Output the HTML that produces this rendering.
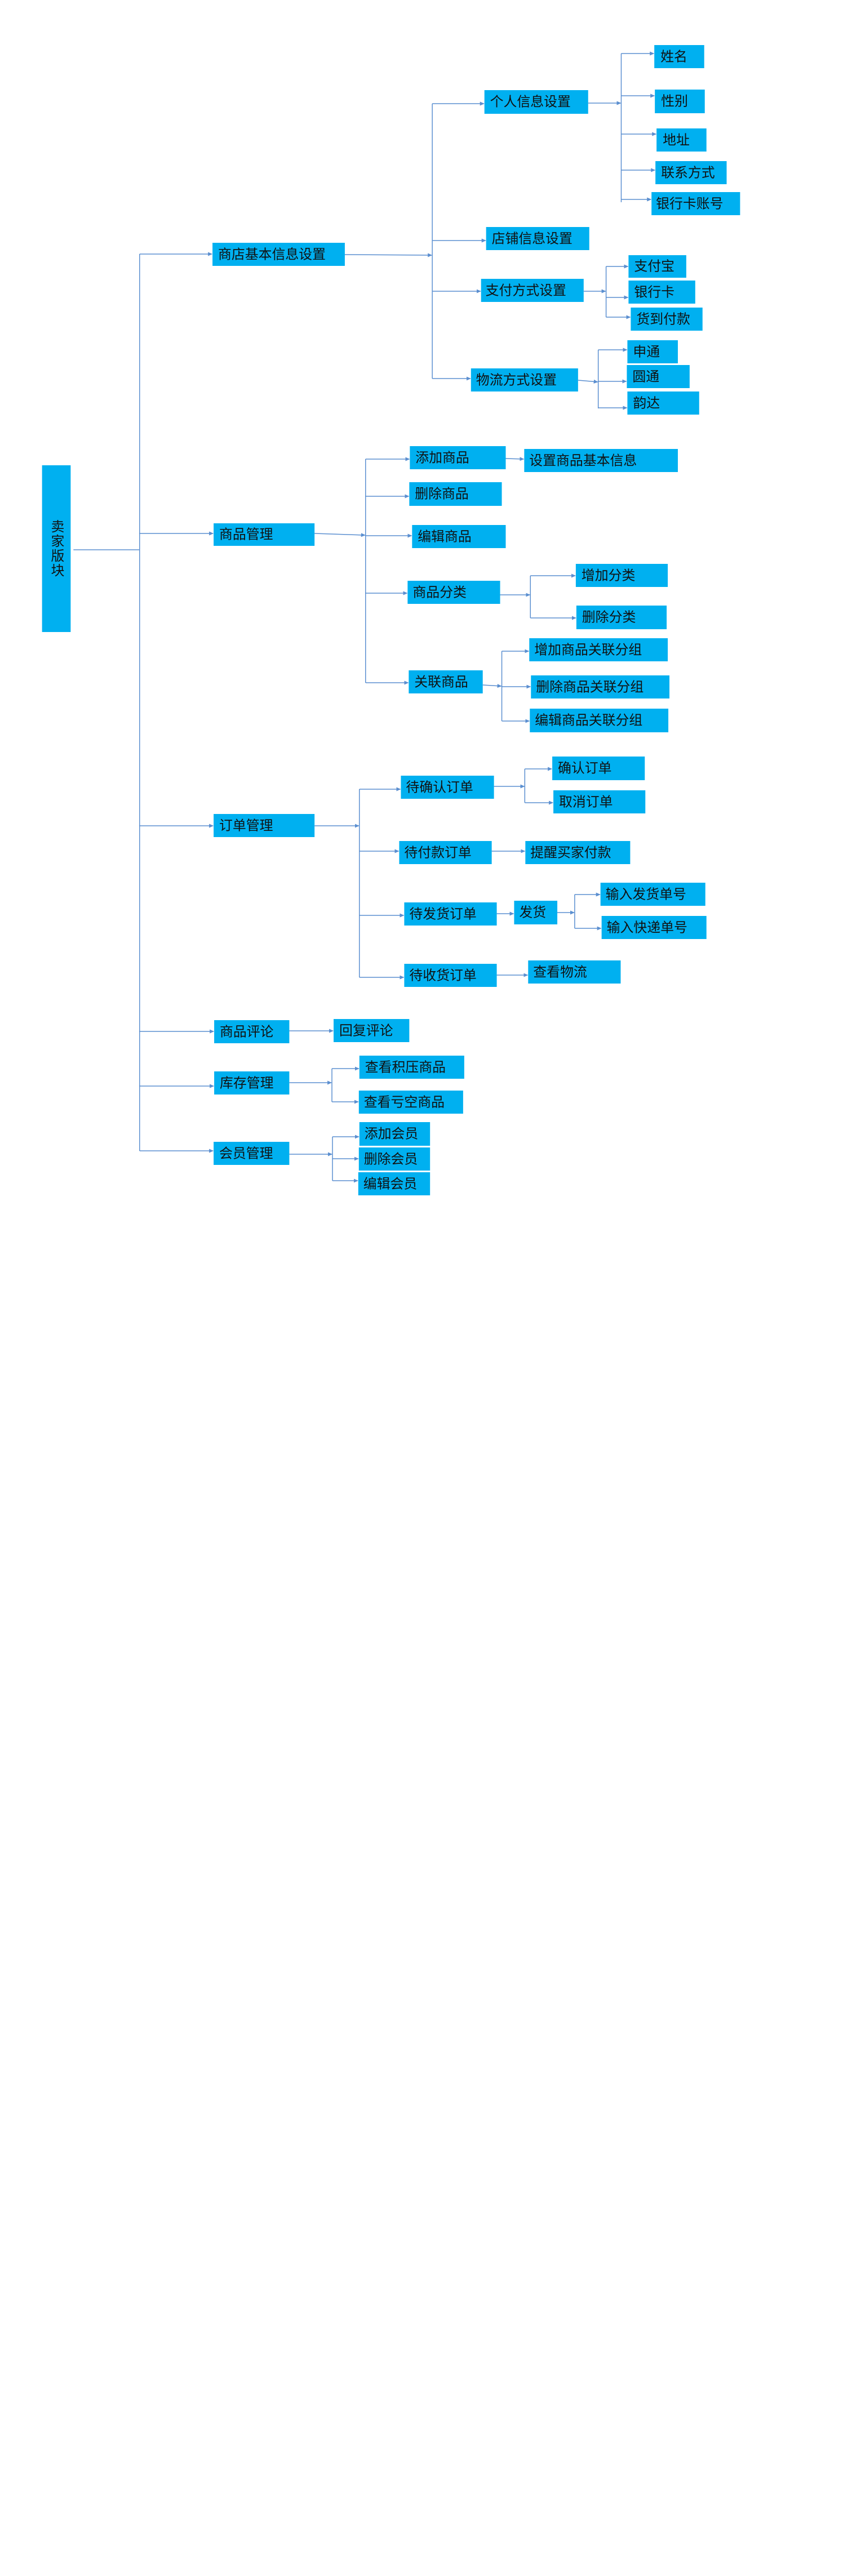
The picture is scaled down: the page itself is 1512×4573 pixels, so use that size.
<!DOCTYPE html>
<html><head><meta charset="utf-8"><style>
html,body{margin:0;padding:0;background:#fff;}
svg{display:block;}
text{font-family:"Liberation Sans","Noto Sans CJK SC",sans-serif;font-size:24px;fill:#111;}
</style></head><body>
<svg width="1512" height="4573" viewBox="0 0 1512 4573" xmlns="http://www.w3.org/2000/svg">
<defs><marker id="a" markerWidth="8" markerHeight="8" refX="7" refY="4" orient="auto" markerUnits="userSpaceOnUse"><path d="M0,0.5 L8,4 L0,7.5 Z" fill="#5b8fd0"/></marker></defs>
<g transform="scale(0.995 1)">
<g fill="#00b0f0">
<rect x="379" y="431" width="236" height="41"/>
<rect x="864" y="160" width="185" height="42"/>
<rect x="1167" y="80" width="89" height="41"/>
<rect x="1168" y="159" width="89" height="42"/>
<rect x="1171" y="228" width="89" height="41"/>
<rect x="1169" y="286" width="127" height="41"/>
<rect x="1162" y="341" width="158" height="41"/>
<rect x="867" y="403" width="184" height="41"/>
<rect x="858" y="495" width="183" height="41"/>
<rect x="1121" y="453" width="103" height="40"/>
<rect x="1121" y="498" width="119" height="41"/>
<rect x="1125" y="546" width="128" height="41"/>
<rect x="840" y="654" width="191" height="41"/>
<rect x="1119" y="604" width="90" height="41"/>
<rect x="1118" y="648" width="112" height="41"/>
<rect x="1119" y="695" width="128" height="41"/>
<rect x="75" y="826" width="51" height="296"/>
<rect x="381" y="929" width="180" height="40"/>
<rect x="731" y="792" width="171" height="41"/>
<rect x="935" y="797" width="274" height="41"/>
<rect x="730" y="856" width="165" height="42"/>
<rect x="735" y="932" width="167" height="41"/>
<rect x="727" y="1031" width="165" height="41"/>
<rect x="1027" y="1001" width="164" height="41"/>
<rect x="1028" y="1075" width="161" height="42"/>
<rect x="729" y="1190" width="132" height="41"/>
<rect x="944" y="1133" width="247" height="41"/>
<rect x="947" y="1199" width="247" height="41"/>
<rect x="945" y="1258" width="247" height="42"/>
<rect x="715" y="1377" width="166" height="41"/>
<rect x="985" y="1343" width="165" height="42"/>
<rect x="987" y="1403" width="164" height="41"/>
<rect x="381" y="1445" width="180" height="41"/>
<rect x="712" y="1493" width="165" height="41"/>
<rect x="937" y="1493" width="187" height="41"/>
<rect x="721" y="1602" width="165" height="41"/>
<rect x="917" y="1599" width="77" height="42"/>
<rect x="1071" y="1567" width="187" height="41"/>
<rect x="1073" y="1626" width="187" height="41"/>
<rect x="721" y="1711" width="165" height="41"/>
<rect x="942" y="1705" width="165" height="41"/>
<rect x="382" y="1811" width="134" height="41"/>
<rect x="595" y="1809" width="135" height="41"/>
<rect x="382" y="1902" width="134" height="41"/>
<rect x="641" y="1874" width="187" height="41"/>
<rect x="640" y="1936" width="186" height="41"/>
<rect x="381" y="2027" width="135" height="41"/>
<rect x="641" y="1992" width="126" height="42"/>
<rect x="640" y="2037" width="127" height="41"/>
<rect x="639" y="2081" width="128" height="41"/>
</g>
<g dominant-baseline="central">
<text x="389" y="452">商店基本信息设置</text>
<text x="874" y="181">个人信息设置</text>
<text x="1178" y="101">姓名</text>
<text x="1179" y="180">性别</text>
<text x="1182" y="249">地址</text>
<text x="1179" y="307">联系方式</text>
<text x="1170" y="362">银行卡账号</text>
<text x="877" y="424">店铺信息设置</text>
<text x="866" y="516">支付方式设置</text>
<text x="1131" y="473">支付宝</text>
<text x="1131" y="519">银行卡</text>
<text x="1135" y="567">货到付款</text>
<text x="849" y="675">物流方式设置</text>
<text x="1129" y="625">申通</text>
<text x="1128" y="669">圆通</text>
<text x="1129" y="716">韵达</text>
<text x="391" y="949">商品管理</text>
<text x="741" y="813">添加商品</text>
<text x="944" y="818">设置商品基本信息</text>
<text x="740" y="877">删除商品</text>
<text x="745" y="953">编辑商品</text>
<text x="736" y="1052">商品分类</text>
<text x="1037" y="1022">增加分类</text>
<text x="1038" y="1096">删除分类</text>
<text x="739" y="1211">关联商品</text>
<text x="953" y="1154">增加商品关联分组</text>
<text x="956" y="1220">删除商品关联分组</text>
<text x="954" y="1279">编辑商品关联分组</text>
<text x="724" y="1398">待确认订单</text>
<text x="995" y="1364">确认订单</text>
<text x="997" y="1424">取消订单</text>
<text x="391" y="1466">订单管理</text>
<text x="721" y="1514">待付款订单</text>
<text x="946" y="1514">提醒买家付款</text>
<text x="730" y="1623">待发货订单</text>
<text x="926" y="1620">发货</text>
<text x="1080" y="1588">输入发货单号</text>
<text x="1082" y="1647">输入快递单号</text>
<text x="730" y="1732">待收货订单</text>
<text x="951" y="1726">查看物流</text>
<text x="392" y="1832">商品评论</text>
<text x="605" y="1830">回复评论</text>
<text x="392" y="1923">库存管理</text>
<text x="651" y="1895">查看积压商品</text>
<text x="649" y="1957">查看亏空商品</text>
<text x="391" y="2048">会员管理</text>
<text x="650" y="2013">添加会员</text>
<text x="649" y="2058">删除会员</text>
<text x="648" y="2102">编辑会员</text>
</g>
<text x="100" y="974" text-anchor="middle" dominant-baseline="central" style="writing-mode:vertical-rl;letter-spacing:2px" transform="rotate(0)">卖家版块</text>
<g stroke="#5b8fd0" stroke-width="1.5" fill="none">
<path d="M131,976 H249 M249,451 V2043"/>
<path d="M771,184 V672 M1108,95 V359 M1081,473 V563 M1067,621 V725 M652,815 V1212 M946,1022 V1097 M895,1156 V1280 M641,1401 V1735 M936,1365 V1425 M1025,1588 V1648 M592,1897 V1956 M593,2018 V2096"/>
</g>
<g stroke="#5b8fd0" stroke-width="1.5" fill="none" marker-end="url(#a)">
<path d="M249,451 H378"/><path d="M249,947 H380"/><path d="M249,1466 H380"/><path d="M249,1831 H381"/><path d="M249,1928 H381"/><path d="M249,2043 H380"/>
<path d="M615,452 L770,453"/>
<path d="M771,184 H863"/><path d="M771,427 H866"/><path d="M771,517 H857"/><path d="M771,672 H839"/>
<path d="M1049,183 H1107"/>
<path d="M1108,95 H1166"/><path d="M1108,170 H1167"/><path d="M1108,238 H1170"/><path d="M1108,302 H1168"/><path d="M1108,354 H1161"/>
<path d="M1041,517 H1080"/>
<path d="M1081,473 H1120"/><path d="M1081,528 H1120"/><path d="M1081,563 H1124"/>
<path d="M1031,675 L1066,678"/>
<path d="M1067,621 H1118"/><path d="M1067,677 H1117"/><path d="M1067,724 H1118"/>
<path d="M561,947 L651,950"/>
<path d="M652,815 H730"/><path d="M652,881 H729"/><path d="M652,951 H734"/><path d="M652,1053 H726"/><path d="M652,1212 H728"/>
<path d="M902,814 L934,815"/>
<path d="M892,1056 H945"/>
<path d="M946,1022 H1026"/><path d="M946,1097 H1027"/>
<path d="M861,1216 L894,1218"/>
<path d="M895,1156 H943"/><path d="M895,1219 H946"/><path d="M895,1280 H944"/>
<path d="M561,1466 H640"/>
<path d="M641,1401 H714"/><path d="M641,1511 H711"/><path d="M641,1625 H720"/><path d="M641,1735 H720"/>
<path d="M881,1396 H935"/>
<path d="M936,1365 H984"/><path d="M936,1425 H986"/>
<path d="M877,1511 H936"/>
<path d="M886,1622 H916"/>
<path d="M994,1620 H1024"/>
<path d="M1025,1588 H1070"/><path d="M1025,1648 H1072"/>
<path d="M886,1731 H941"/>
<path d="M516,1830 H594"/>
<path d="M516,1922 H591"/>
<path d="M592,1897 H640"/><path d="M592,1956 H639"/>
<path d="M516,2049 H592"/>
<path d="M593,2018 H640"/><path d="M593,2057 H639"/><path d="M593,2096 H638"/>
</g>
</g>
</svg>
</body></html>
